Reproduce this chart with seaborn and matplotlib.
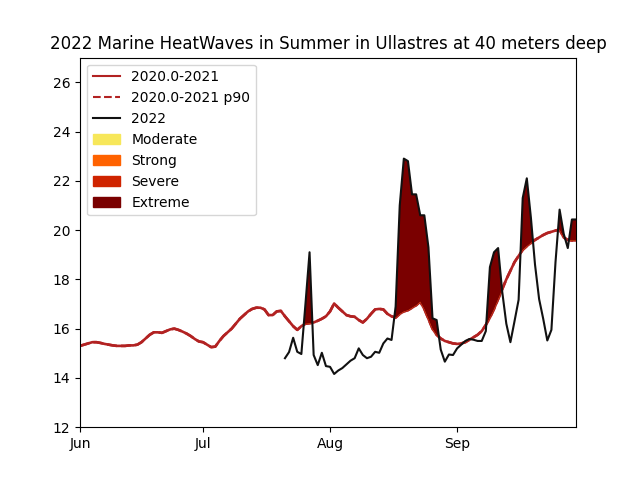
import numpy as np
import pandas as pd
import matplotlib
matplotlib.use("Agg")
import matplotlib.pyplot as plt
import matplotlib.dates as mdates
from matplotlib.lines import Line2D
from matplotlib.patches import Patch
import seaborn as sns

# ---- data ----
clim_start = "2022-06-01"
clim = [15.3, 15.35, 15.4, 15.45, 15.45, 15.42, 15.38, 15.35, 15.32, 15.3,
        15.3, 15.3, 15.32, 15.32, 15.35, 15.45, 15.6, 15.75, 15.85, 15.85,
        15.83, 15.9, 15.97, 16.0, 15.95, 15.88, 15.8, 15.7, 15.58, 15.48,
        15.45, 15.35, 15.25, 15.27, 15.5, 15.7, 15.85, 16.0, 16.2, 16.4,
        16.55, 16.7, 16.8, 16.85, 16.85, 16.78, 16.55, 16.55, 16.7, 16.72,
        16.5, 16.3, 16.1, 15.95, 16.1, 16.2, 16.22, 16.25, 16.32, 16.4,
        16.5, 16.7, 17.02, 16.85, 16.7, 16.55, 16.5, 16.48, 16.35, 16.25,
        16.4, 16.6, 16.78, 16.8, 16.78, 16.6, 16.5, 16.45, 16.6, 16.7,
        16.75, 16.85, 16.95, 17.1, 16.8, 16.4, 16.0, 15.75, 15.6, 15.5,
        15.45, 15.4, 15.38, 15.4, 15.45, 15.55, 15.65, 15.75, 15.9, 16.15,
        16.45, 16.8, 17.2, 17.6, 18.0, 18.35, 18.7, 18.95, 19.2, 19.35,
        19.48, 19.6, 19.7, 19.8, 19.88, 19.93, 19.98, 20.02, 19.7, 19.6,
        19.58, 19.58]
# p90 coincides with the climatology in the reference
p90 = [15.3, 15.35, 15.4, 15.45, 15.45, 15.42, 15.38, 15.35, 15.32, 15.3,
       15.3, 15.3, 15.32, 15.32, 15.35, 15.45, 15.6, 15.75, 15.85, 15.85,
       15.83, 15.9, 15.97, 16.0, 15.95, 15.88, 15.8, 15.7, 15.58, 15.48,
       15.45, 15.35, 15.25, 15.27, 15.5, 15.7, 15.85, 16.0, 16.2, 16.4,
       16.55, 16.7, 16.8, 16.85, 16.85, 16.78, 16.55, 16.55, 16.7, 16.72,
       16.5, 16.3, 16.1, 15.95, 16.1, 16.2, 16.22, 16.25, 16.32, 16.4,
       16.5, 16.7, 17.02, 16.85, 16.7, 16.55, 16.5, 16.48, 16.35, 16.25,
       16.4, 16.6, 16.78, 16.8, 16.78, 16.6, 16.5, 16.45, 16.6, 16.7,
       16.75, 16.85, 16.95, 17.1, 16.8, 16.4, 16.0, 15.75, 15.6, 15.5,
       15.45, 15.4, 15.38, 15.4, 15.45, 15.55, 15.65, 15.75, 15.9, 16.15,
       16.45, 16.8, 17.2, 17.6, 18.0, 18.35, 18.7, 18.95, 19.2, 19.35,
       19.48, 19.6, 19.7, 19.8, 19.88, 19.93, 19.98, 20.02, 19.7, 19.6,
       19.58, 19.58]

temp_start = "2022-07-21"
temp = [14.8, 15.05, 15.63, 15.06, 14.97, 17.0, 19.1, 14.93, 14.52, 15.02,
        14.48, 14.45, 14.16, 14.3, 14.4, 14.55, 14.7, 14.8, 15.2, 14.93,
        14.8, 14.86, 15.06, 15.02, 15.4, 15.6, 15.54, 16.9, 21.0, 22.9,
        22.8, 21.45, 21.45, 20.6, 20.6, 19.3, 16.42, 16.35, 15.15, 14.66,
        14.95, 14.93, 15.2, 15.35, 15.5, 15.58, 15.55, 15.5, 15.5, 15.9,
        18.5, 19.1, 19.27, 17.5, 16.2, 15.45, 16.3, 17.17, 21.3, 22.1,
        20.5, 18.6, 17.2, 16.4, 15.52, 15.95, 18.7, 20.83, 19.85, 19.27,
        20.43, 20.43]

categories = ["Moderate", "Strong", "Severe", "Extreme"]
cat_colors = ["#f7e75a", "#ff6200", "#cf2400", "#7a0000"]
clim_label = "2020.0-2021"
p90_label = "2020.0-2021 p90"
temp_label = "2022"
title = "2022 Marine HeatWaves in Summer in Ullastres at 40 meters deep"

# ---- frames ----
clim_dates = pd.date_range(clim_start, periods=len(clim), freq="D")
df_clim = pd.DataFrame({"date": clim_dates, "clim": clim, "p90": p90})
temp_dates = pd.date_range(temp_start, periods=len(temp), freq="D")
df_temp = pd.DataFrame({"date": temp_dates, "temp": temp})
df_m = df_temp.merge(df_clim, on="date", how="left")

fig, ax = plt.subplots(figsize=(6.4, 4.8), dpi=100)
red = "#b22222"
sns.lineplot(data=df_clim, x="date", y="clim", color=red, lw=1.9, ax=ax, legend=False)
sns.lineplot(data=df_clim, x="date", y="p90", color=red, lw=1.9, ls="--", ax=ax, legend=False)

for c in cat_colors:
    ax.fill_between(df_m["date"], df_m["p90"], df_m["temp"],
                    where=df_m["temp"] > df_m["p90"], interpolate=True,
                    color=c, lw=0, zorder=3)

sns.lineplot(data=df_temp, x="date", y="temp", color="#111111", lw=1.5, ax=ax,
             legend=False, zorder=4)

ax.set_xlim(pd.Timestamp("2022-06-01"), pd.Timestamp("2022-09-30"))
ax.set_ylim(12, 27)
ax.set_yticks(np.arange(12, 27, 2))
ax.xaxis.set_major_locator(mdates.MonthLocator())
ax.xaxis.set_major_formatter(mdates.DateFormatter("%b"))
ax.set_xlabel("")
ax.set_ylabel("")
ax.set_title(title)

handles = [Line2D([], [], color=red, lw=1.5),
           Line2D([], [], color=red, lw=1.5, ls="--"),
           Line2D([], [], color="#111111", lw=1.5)]
handles += [Patch(facecolor=c, edgecolor=c) for c in cat_colors]
labels = [clim_label, p90_label, temp_label] + categories
ax.legend(handles, labels, loc="upper left")

fig.savefig("out.png", dpi=100)
